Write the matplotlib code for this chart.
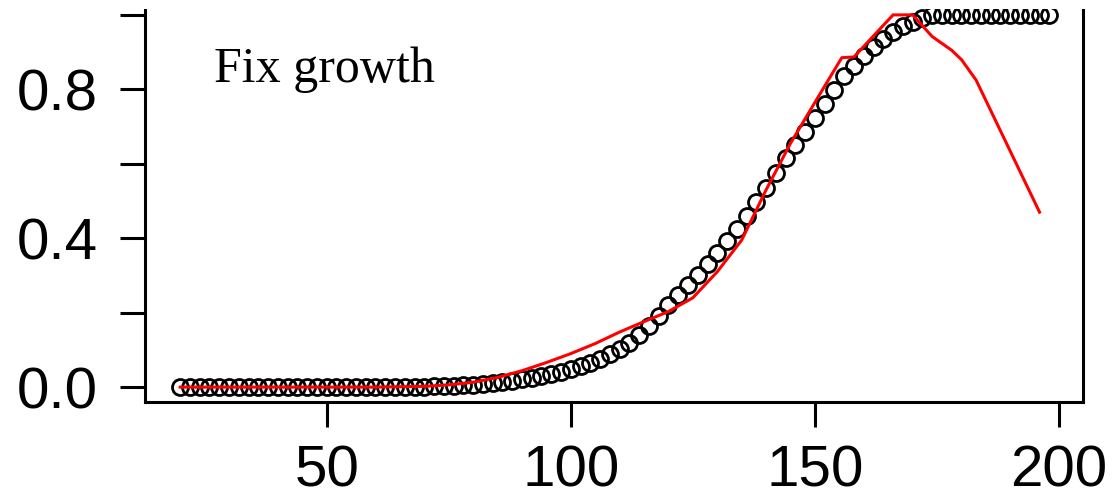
import matplotlib.pyplot as plt
from matplotlib.patches import Rectangle

# lengths (every 2 units) and the fixed-growth proportion at each
length = list(range(20, 200, 2))
prop_obs = [0.000, 0.000, 0.000, 0.000, 0.000, 0.000, 0.000, 0.000, 0.000, 0.000,
            0.000, 0.000, 0.000, 0.000, 0.000, 0.000, 0.000, 0.000, 0.000, 0.000,
            0.000, 0.000, 0.001, 0.001, 0.001, 0.001,
            0.002, 0.003, 0.004, 0.005, 0.007, 0.009, 0.011, 0.014, 0.017, 0.021,
            0.025, 0.030, 0.035, 0.041, 0.048, 0.056, 0.065, 0.076, 0.088, 0.102,
            0.118, 0.140, 0.165, 0.192, 0.220, 0.248, 0.275, 0.302, 0.330, 0.360,
            0.392, 0.425, 0.460, 0.497, 0.535, 0.575, 0.615, 0.650, 0.686, 0.722,
            0.760, 0.798, 0.835, 0.864, 0.890, 0.913, 0.935, 0.954, 0.970, 0.982,
            0.992,
            1.0, 1.0, 1.0, 1.0, 1.0, 1.0, 1.0, 1.0, 1.0, 1.0, 1.0, 1.0, 1.0]

# fitted curve
fit_len = [20, 30, 40, 50, 60, 65, 70, 75, 80, 85, 90, 95, 100, 105, 110, 115,
           120, 125, 130, 135, 140, 145, 150, 155.5, 158, 166, 170, 174, 178,
           180, 183, 196]
fit_prop = [0.0, 0.0, 0.0, 0.0, 0.0, 0.001, 0.002, 0.006, 0.013, 0.026, 0.044,
            0.066, 0.090, 0.117, 0.148, 0.176, 0.203, 0.240, 0.310, 0.395, 0.530,
            0.655, 0.765, 0.885, 0.887, 1.0, 1.0, 0.942, 0.905, 0.880, 0.825, 0.47]

lw = 2.2
fig = plt.figure(figsize=(11.17, 4.97), dpi=100)
ax = fig.add_axes([145/1117, 95/497, 938/1117, 402/497])

ax.plot(length, prop_obs, 'o', ms=11.5, mfc='none', mec='black', mew=2.0)
ax.plot(fit_len, fit_prop, '-', color='red', lw=2.2)

ax.set_xlim(12.8, 204.9)
ax.set_ylim(-0.04, 1.04)
ax.set_xticks([50, 100, 150, 200])
ax.set_yticks([0, 0.2, 0.4, 0.6, 0.8, 1.0])
ax.set_yticklabels(['0.0', '', '0.4', '', '0.8', ''])
ax.tick_params(length=18, width=lw, color='black')
ax.tick_params(axis='y', pad=16)
ax.tick_params(axis='x', pad=12.5)
for lab in ax.get_xticklabels() + ax.get_yticklabels():
    lab.set_fontfamily('Liberation Sans')
    lab.set_fontsize(42)
for s in ax.spines.values():
    s.set_linewidth(lw)
ax.spines['top'].set_visible(False)

ax.text(27, 0.82, 'Fix growth', ha='left', va='baseline',
        fontfamily='Liberation Serif', fontsize=36)

# blank band along the top edge
fig.patches.append(Rectangle((0, 1 - 9/497), 1, 9/497, transform=fig.transFigure,
                             facecolor='white', edgecolor='none', zorder=10))

fig.savefig('out.png', dpi=100)
